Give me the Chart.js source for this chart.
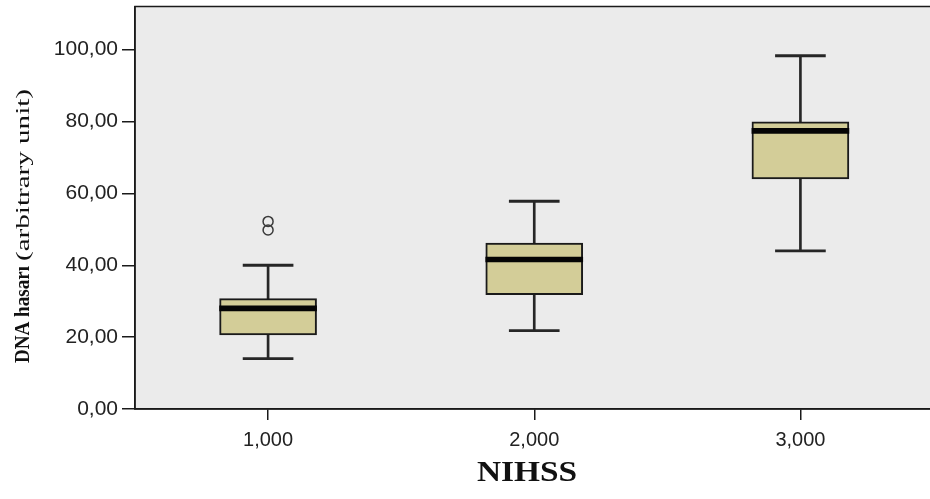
<!DOCTYPE html>
<html>
<head>
<meta charset="utf-8">
<script src="https://cdn.jsdelivr.net/npm/chart.js@4"></script>
<style>
  body { margin: 0; overflow: hidden; background: #fff; }
  #wrap { width: 940px; height: 499px; position: relative; }
</style>
</head>
<body>
<div id="wrap"><canvas id="myChart"></canvas></div>
<script>
// NIHSS groups and box plot values
const categories = ['1,000', '2,000', '3,000'];
const whiskerLow = [14.0, 21.8, 44.0];
const q1 = [20.6, 31.8, 64.0];
const median = [28.0, 41.6, 77.4];
const q3 = [30.7, 46.2, 79.9];
const whiskerHigh = [40.0, 57.8, 98.3];
const outlierGroup = ['1,000', '1,000'];
const outlierValues = [52.2, 49.8];
const yTicks = [0, 20, 40, 60, 80, 100];

const boxFill = '#d3cd98';
const ink = '#1a1a1a';

// background of plot area, frame and axis titles
const frame = {
  id: 'frame',
  beforeDraw(chart) {
    const { ctx, chartArea: a } = chart;
    ctx.save();
    ctx.fillStyle = '#fff';
    ctx.fillRect(0, 0, chart.width, chart.height);
    ctx.fillStyle = '#ebebeb';
    ctx.fillRect(a.left, a.top, a.right - a.left, a.bottom - a.top);
    ctx.restore();
  },
  afterDraw(chart) {
    const { ctx, chartArea: a } = chart;
    ctx.save();
    ctx.strokeStyle = ink;
    ctx.lineWidth = 1.5;
    ctx.strokeRect(a.left, a.top, a.right - a.left, a.bottom - a.top);

    // x title
    ctx.fillStyle = '#111';
    ctx.textAlign = 'center';
    ctx.textBaseline = 'middle';
    ctx.font = 'bold 29px "Liberation Serif"';
    ctx.save();
    ctx.translate(527, 474);
    ctx.scale(1.15, 1);
    ctx.fillText('NIHSS', 0, 0);
    ctx.restore();

    // y title, bold part then normal part
    ctx.save();
    ctx.translate(24, 363);
    ctx.rotate(-Math.PI / 2);
    ctx.textAlign = 'left';
    ctx.font = 'bold 20px "Liberation Serif"';
    const b = 'DNA hasarı';
    const bw = ctx.measureText(b).width;
    ctx.save();
    ctx.scale(97 / bw, 1);
    ctx.fillText(b, 0, 0);
    ctx.restore();
    ctx.font = '19px "Liberation Serif"';
    const r = '(arbitrary unit)';
    const rw = ctx.measureText(r).width;
    ctx.translate(102, 0);
    ctx.scale(172 / rw, 1);
    ctx.fillText(r, 0, 0);
    ctx.restore();
    ctx.restore();
  }
};

new Chart(document.getElementById('myChart'), {
  type: 'bar',
  data: {
    labels: categories,
    datasets: [
      {
        label: 'whisker',
        data: whiskerLow.map((v, i) => [v, whiskerHigh[i]]),
        backgroundColor: '#262626',
        barThickness: 2,
        grouped: false,
        order: 5
      },
      {
        label: 'box',
        data: q1.map((v, i) => [v, q3[i]]),
        backgroundColor: boxFill,
        borderColor: ink,
        borderWidth: 2,
        borderSkipped: false,
        barThickness: 97,
        grouped: false,
        order: 4
      },
      {
        label: 'median',
        data: median.map(v => [v - 0.7, v + 0.7]),
        backgroundColor: '#050505',
        barThickness: 97,
        grouped: false,
        order: 3
      },
      {
        label: 'low cap',
        data: whiskerLow.map(v => [v - 0.3, v + 0.3]),
        backgroundColor: '#262626',
        barThickness: 50,
        grouped: false,
        order: 2
      },
      {
        label: 'high cap',
        data: whiskerHigh.map(v => [v - 0.3, v + 0.3]),
        backgroundColor: '#262626',
        barThickness: 50,
        grouped: false,
        order: 2
      },
      {
        type: 'line',
        label: 'outliers',
        data: outlierValues.map((v, i) => ({ x: outlierGroup[i], y: v })),
        showLine: false,
        pointRadius: 5,
        pointBackgroundColor: 'rgba(0,0,0,0)',
        pointBorderColor: '#3a3a3a',
        pointBorderWidth: 1.5,
        order: 1
      }
    ]
  },
  options: {
    responsive: true,
    maintainAspectRatio: false,
    animation: false,
    layout: { padding: { top: 5, right: 4, bottom: 0, left: 0 } },
    plugins: {
      legend: { display: false },
      tooltip: { enabled: false }
    },
    scales: {
      x: {
        offset: true,
        grid: { offset: false, drawOnChartArea: false, drawTicks: true, tickLength: 11, color: ink, lineWidth: 1.5 },
        border: { display: true, color: ink, width: 1.5 },
        ticks: { color: '#222', padding: 8, font: { family: '"Liberation Sans"', size: 20 }, maxRotation: 0 },
        afterFit(s) { s.height = 90; s.paddingLeft = 0; s.paddingRight = 0; }
      },
      y: {
        min: 0,
        max: 112,
        grid: { drawOnChartArea: false, drawTicks: true, tickLength: 13, color: ink, lineWidth: 1.5 },
        border: { display: true, color: ink, width: 1.5 },
        afterBuildTicks(s) { s.ticks = yTicks.map(v => ({ value: v })); },
        ticks: {
          color: '#222',
          padding: 4,
          font: { family: '"Liberation Sans"', size: 21 },
          callback: v => v.toFixed(2).replace('.', ',')
        },
        afterFit(s) { s.width = 135; s.paddingTop = 0; s.paddingBottom = 0; }
      }
    }
  },
  plugins: [frame]
});
</script>
</body>
</html>
